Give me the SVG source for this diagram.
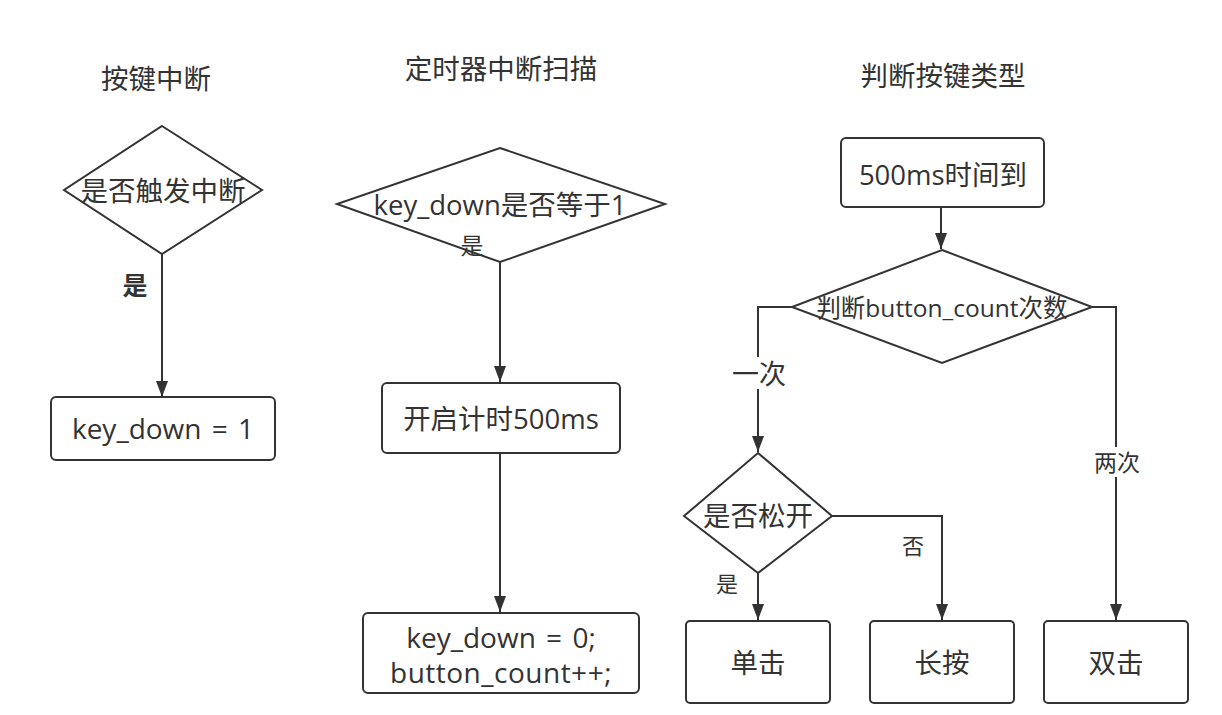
<svg xmlns="http://www.w3.org/2000/svg" width="1222" height="715" viewBox="0 0 1222 715">
<defs>
<style>
text{font-family:"Open Sans","Noto Sans CJK SC",sans-serif;fill:#333;text-anchor:middle;dominant-baseline:central}
.t{font-size:27.5px}
.c{font-size:28px;word-spacing:3px}
.n{fill:#fff;stroke:#333;stroke-width:2}
.e{fill:none;stroke:#333;stroke-width:2}
</style>
<marker id="a" viewBox="0 0 16 12" refX="16" refY="6" markerWidth="16" markerHeight="12" markerUnits="userSpaceOnUse" orient="auto"><path d="M0,0L16,6L0,12z" fill="#333"/></marker>
</defs>
<rect width="1222" height="715" fill="#fff"/>
<text class="t" x="156" y="78">按键中断</text>
<text class="t" x="501" y="68">定时器中断扫描</text>
<text class="t" x="943" y="75">判断按键类型</text>
<g id="connectors">
<path class="e" d="M162,254V397" marker-end="url(#a)"/>
<path class="e" d="M500,262V382" marker-end="url(#a)"/>
<path class="e" d="M500,453V612" marker-end="url(#a)"/>
<path class="e" d="M941,207V249" marker-end="url(#a)"/>
<path class="e" d="M792,307H758V452" marker-end="url(#a)"/>
<path class="e" d="M1092,307H1116V620" marker-end="url(#a)"/>
<path class="e" d="M758,573V620" marker-end="url(#a)"/>
<path class="e" d="M832,516H942V620" marker-end="url(#a)"/>
<text x="135" y="285" style="font-size:25px;font-weight:bold">是</text>
<rect x="729" y="357" width="60" height="32" fill="#fff"/>
<text x="759" y="373" style="font-size:27px">一次</text>
<rect x="1092" y="447" width="50" height="30" fill="#fff"/>
<text x="1117" y="462" style="font-size:23px">两次</text>
<text x="727" y="583" style="font-size:22px">是</text>
<text x="913" y="545" style="font-size:22px">否</text>
</g>
<g id="n1"><path class="n" d="M162,126L262,190L162,254L64,190Z"/><text class="t" x="163" y="190">是否触发中断</text></g>
<g id="n2"><rect class="n" x="51" y="397" width="224" height="63" rx="5"/><text class="c" x="163" y="428">key_down = 1</text></g>
<g id="n3"><path class="n" d="M500,148L665,204L500,262L337,204Z"/><text class="t" x="500" y="204">key_down是否等于1</text><text x="472" y="245" style="font-size:23px">是</text></g>
<g id="n4"><rect class="n" x="382" y="383" width="238" height="70" rx="5"/><text class="t" x="501" y="418">开启计时500ms</text></g>
<g id="n5"><rect class="n" x="363" y="613" width="276" height="80" rx="5"/><text class="c" x="501" y="637">key_down = 0;</text><text class="c" x="501" y="672" style="letter-spacing:0.5px">button_count++;</text></g>
<g id="n6"><rect class="n" x="841" y="138" width="203" height="69" rx="5"/><text class="t" x="943" y="174">500ms时间到</text></g>
<g id="n7"><path class="n" d="M942,250L1092,307L942,363L792,307Z"/><text x="942" y="307" style="font-size:24.5px">判断button_count次数</text></g>
<g id="n8"><path class="n" d="M758,453L832,516L758,573L684,516Z"/><text class="t" x="758" y="515">是否松开</text></g>
<g id="n9"><rect class="n" x="686" y="621" width="144" height="82" rx="4"/><text class="t" x="758" y="662">单击</text></g>
<g id="n10"><rect class="n" x="870" y="621" width="144" height="82" rx="4"/><text class="t" x="942" y="662">长按</text></g>
<g id="n11"><rect class="n" x="1044" y="621" width="144" height="82" rx="4"/><text class="t" x="1116" y="662">双击</text></g>
</svg>
